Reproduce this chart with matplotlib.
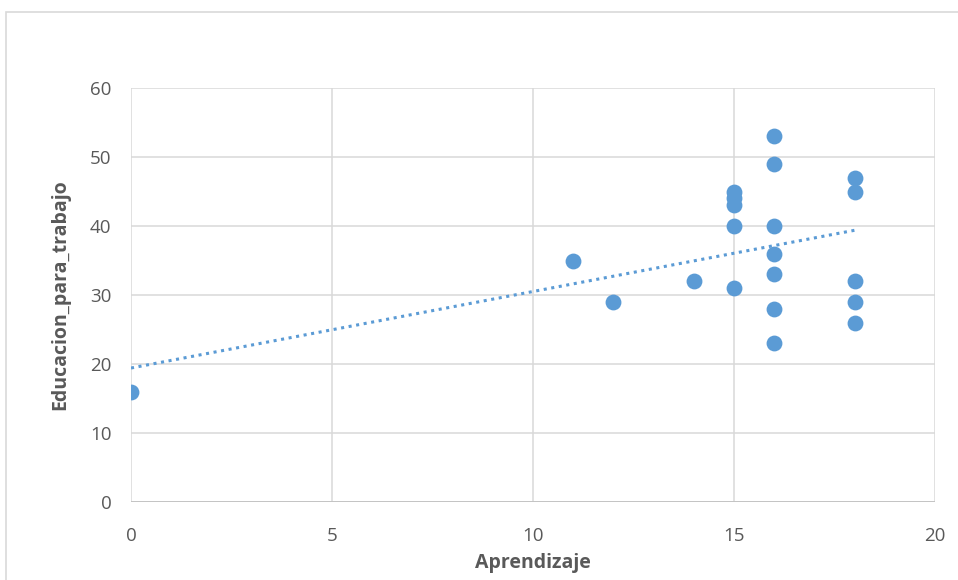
import matplotlib.pyplot as plt
import matplotlib.patches as patches
import numpy as np

aprendizaje = [0, 11, 12, 14, 15, 15, 15, 15, 15, 16, 16, 16, 16, 16, 16, 16, 18, 18, 18, 18, 18]
educacion = [16, 35, 29, 32, 31, 40, 43, 44, 45, 53, 49, 40, 36, 33, 28, 23, 47, 45, 32, 29, 26]

plt.rcParams['font.family'] = ['Open Sans', 'DejaVu Sans']

fig = plt.figure(figsize=(9.58, 5.8), dpi=100)
# outer chart border
fig.patches.append(patches.Rectangle((6 / 958, -0.1), 1.1, 1 - 12 / 580 + 0.1,
                                     transform=fig.transFigure, fill=False,
                                     edgecolor='#d9d9d9', linewidth=1.2))
ax = fig.add_axes([131 / 958, 1 - 502 / 580, 804 / 958, 414 / 580])

x = np.array(aprendizaje, dtype=float)
y = np.array(educacion, dtype=float)
ax.scatter(x, y, s=130, color='#5b9bd5', zorder=3, linewidths=0)

m, b = np.polyfit(x, y, 1)
xt = np.array([x.min(), x.max()])
ax.plot(xt, m * xt + b, linestyle=(0, (1, 1.5)), color='#5b9bd5', linewidth=2.2, zorder=2)

ax.set_xlim(0, 20)
ax.set_ylim(0, 60)
ax.set_xticks(range(0, 21, 5))
ax.set_yticks(range(0, 61, 10))
ax.grid(True, color='#d9d9d9', linewidth=1.1)
ax.set_axisbelow(True)
for s in ax.spines.values():
    s.set_visible(False)
ax.axhline(0, color='#bfbfbf', linewidth=1.2, zorder=1)
ax.tick_params(length=0, labelsize=13.5, colors='#595959')
ax.tick_params(axis='x', pad=18)
ax.tick_params(axis='y', pad=14)
ax.set_xlabel('Aprendizaje', fontsize=14, fontweight='bold', color='#595959', labelpad=6)
ax.set_ylabel('Educacion_para_trabajo', fontsize=14, fontweight='bold', color='#595959', labelpad=14)

fig.savefig('out.png', dpi=100)
